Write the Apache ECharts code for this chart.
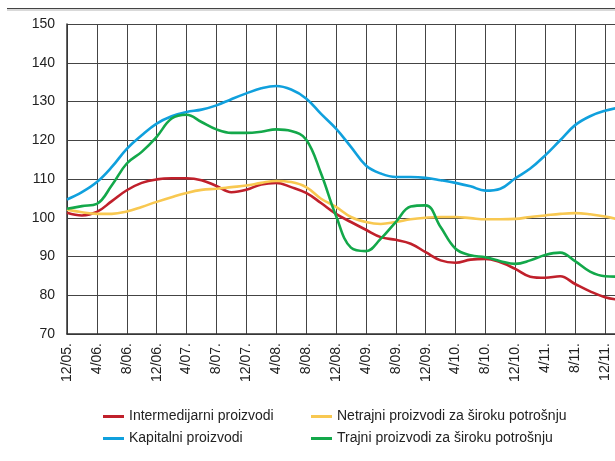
<!DOCTYPE html>
<html>
<head>
<meta charset="utf-8">
<script src="https://cdn.jsdelivr.net/npm/echarts@6/dist/echarts.min.js"></script>
<style>
  html, body { margin: 0; padding: 0; background: #fff; }
  #chart { width: 615px; height: 461px; }
</style>
</head>
<body>
<div id="chart"></div>
<script>
// tick labels, one every 4 months starting 12/05
const xLabels = ['12/05.', '4/06.', '8/06.', '12/06.', '4/07.', '8/07.', '12/07.', '4/08.', '8/08.',
  '12/08.', '4/09.', '8/09.', '12/09.', '4/10.', '8/10.', '12/10.', '4/11.', '8/11.', '12/11.']

// months counted from 12/05, one reading every 2 months
const months = [0, 2, 4, 6, 8, 10, 12, 14, 16, 18, 20, 22, 24, 26, 28, 30, 32, 34, 36,
  38, 40, 42, 44, 46, 48, 50, 52, 54, 56, 58, 60, 62, 64, 66, 68, 70, 72, 74]

const intermedijarni = [101.3, 100.6, 101.5, 104.3, 107.1, 109, 109.9, 110.2, 110.2, 109.7, 108.2, 106.6, 107.2,
  108.6, 109, 107.9, 106.4, 103.8, 101, 98.9, 96.9, 95, 94.3, 93.3, 91.1, 89, 88.4, 89.2, 89.4, 88.5,
  86.8, 84.8, 84.5, 84.9, 82.9, 81, 79.5, 78.8]

const kapitalni = [104.7, 106.6, 109.2, 113.1, 117.8, 121.3, 124.3, 126.2, 127.3, 127.9, 129, 130.6, 132.1,
  133.4, 134, 133.1, 130.8, 126.8, 123, 118.3, 113.5, 111.4, 110.5, 110.5, 110.3, 109.7, 109, 108.1, 107,
  107.5, 110.2, 112.7, 116.1, 120, 123.9, 126.2, 127.6, 128.5]

const netrajni = [102.1, 101.4, 101, 101, 101.6, 102.8, 104.1, 105.3, 106.4, 107.2, 107.5, 107.9, 108.3,
  109, 109.5, 109.2, 107.9, 104.9, 102.8, 100.2, 98.9, 98.4, 98.9, 99.6, 100, 100.2, 100.2, 99.9, 99.6,
  99.6, 99.7, 100.2, 100.6, 101, 101.2, 100.9, 100.3, 99.5]

const trajni = [102.3, 103, 103.6, 108.4, 114, 117, 120.9, 125.6, 126.6, 124.7, 122.8, 121.9, 121.9,
  122.2, 122.8, 122.4, 120.2, 111.4, 100.5, 92.3, 91.4, 94.6, 98.9, 102.9, 103.2, 97.6, 92, 90.3, 89.8,
  88.8, 88.1, 89, 90.4, 91, 88.8, 86.1, 84.9, 84.8]

const names = ['Intermedijarni proizvodi', 'Kapitalni proizvodi',
  'Netrajni proizvodi za široku potrošnju', 'Trajni proizvodi za široku potrošnju']

const font = '"Liberation Sans", Arial, sans-serif'

const makeLine = (name, values, color) => ({
  name: name,
  type: 'line',
  smooth: 0.4,
  showSymbol: false,
  symbol: 'none',
  lineStyle: { width: 2.6, color: color },
  itemStyle: { color: color },
  data: values.map((v, i) => [months[i], v])
})

const legendBase = {
  top: 409,
  orient: 'vertical',
  icon: 'rect',
  itemWidth: 21,
  itemHeight: 3,
  itemGap: 7,
  padding: 0,
  textStyle: { fontFamily: font, fontSize: 14, color: '#222', lineHeight: 15 }
}

const chart = echarts.init(document.getElementById('chart'))
chart.setOption({
  backgroundColor: '#fff',
  animation: false,
  graphic: [
    { type: 'line', shape: { x1: 7, y1: 8.5, x2: 615, y2: 8.5 }, style: { stroke: '#444', lineWidth: 1 } },
    { type: 'line', shape: { x1: 7, y1: 10, x2: 615, y2: 10 }, style: { stroke: '#ccc', lineWidth: 1.5 } }
  ],
  grid: {
    left: 67,
    right: 0,
    top: 24,
    bottom: 127
  },
  legend: [
    { ...legendBase, left: 103, data: [names[0], names[1]] },
    { ...legendBase, left: 311, data: [names[2], names[3]] }
  ],
  xAxis: {
    type: 'value',
    min: 0,
    max: 73.34,
    interval: 4,
    axisLine: { lineStyle: { color: '#333', width: 1.5 } },
    axisTick: { show: false },
    splitLine: { lineStyle: { color: '#444', width: 1 } },
    axisLabel: {
      rotate: 90,
      margin: 9,
      fontFamily: font,
      fontSize: 14,
      color: '#222',
      formatter: (v) => (v % 4 === 0 && xLabels[v / 4]) ? xLabels[v / 4] : ''
    }
  },
  yAxis: {
    type: 'value',
    min: 70,
    max: 150,
    interval: 10,
    axisLine: { show: true, lineStyle: { color: '#333', width: 1.5 } },
    axisTick: { show: false },
    splitLine: { lineStyle: { color: '#444', width: 1 } },
    axisLabel: {
      margin: 12,
      fontFamily: font,
      fontSize: 14,
      color: '#222'
    }
  },
  series: [
    makeLine(names[0], intermedijarni, '#c0202b'),
    makeLine(names[1], kapitalni, '#10a0dd'),
    makeLine(names[2], netrajni, '#f8c851'),
    makeLine(names[3], trajni, '#13a84a')
  ]
})
</script>
</body>
</html>
